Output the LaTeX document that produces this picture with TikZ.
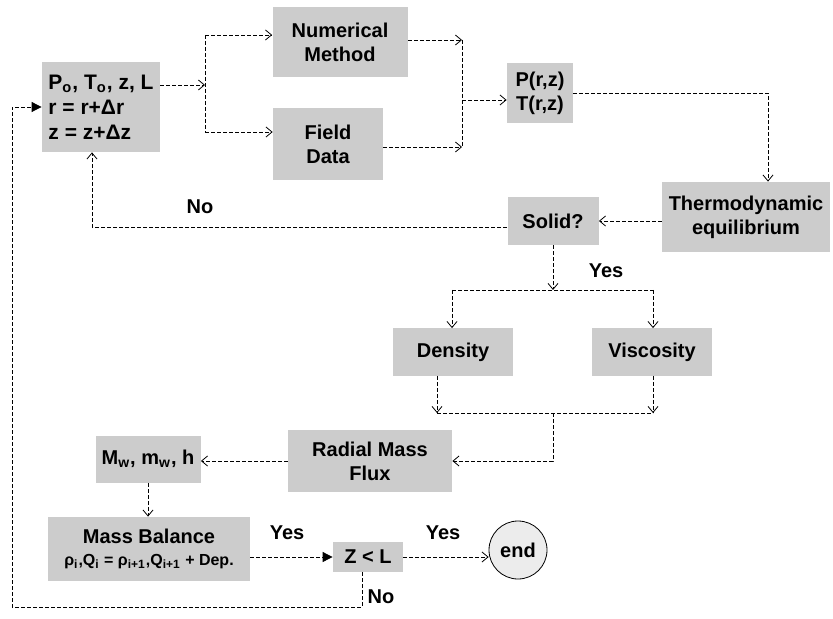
\documentclass[tikz,border=0pt]{standalone}
\usepackage{fontspec}
\setmainfont{Liberation Sans}
\usetikzlibrary{arrows.meta}

\begin{document}
\begin{tikzpicture}[x=0.5pt, y=-0.5pt,
	font=\fontsize{10}{12}\selectfont\bfseries,
	box/.style={fill=gray!40, align=center, inner sep=0pt},
	arr/.style={thin, dash pattern=on 2pt off 1pt, -{Straight Barb[length=3pt,width=5pt]}},
	farr/.style={thin, dash pattern=on 2pt off 1pt, -{Triangle[length=5pt,width=5pt]}},
	link/.style={thin, dash pattern=on 2pt off 1pt}]
	\useasboundingbox (0,0) rectangle (833,619);
	% blocks
	\node[box, align=left, minimum width=59pt, minimum height=45pt, font=\fontsize{10.5}{12.5}\selectfont\bfseries] (input) at (101,107)
		{P\textsubscript{o}, T\textsubscript{o}, z, L\\r = r+Δr\\z = z+Δz};
	\node[box, minimum width=67.5pt, minimum height=35pt] (num) at (340,42) {Numerical\\Method};
	\node[box, minimum width=55pt, minimum height=36pt] (field) at (328,144) {Field\\Data};
	\node[box, minimum width=33pt, minimum height=30pt] (pt) at (540,93) {P(r,z)\\T(r,z)};
	\node[box, minimum width=84pt, minimum height=35pt] (thermo) at (746,217) {Thermodynamic\\equilibrium};
	\node[box, minimum width=45.5pt, minimum height=24pt] (solid) at (553,221) {Solid?};
	\node[box, minimum width=60pt, minimum height=23.5pt] (dens) at (453,352) {Density};
	\node[box, minimum width=60pt, minimum height=23.5pt] (visc) at (652,352) {Viscosity};
	\node[box, minimum width=82pt, minimum height=31pt] (radial) at (370,461) {Radial Mass\\Flux};
	\node[box, minimum width=52.5pt, minimum height=23.5pt] (mw) at (148,459) {M\textsubscript{w}, m\textsubscript{w}, h};
	\node[box, minimum width=101pt, minimum height=32pt] (mass) at (149,549)
		{Mass Balance\\[-1pt]{\fontsize{8}{9}\selectfont ρ\textsubscript{i},Q\textsubscript{i} = ρ\textsubscript{i+1},Q\textsubscript{i+1} + Dep.}};
	\node[box, minimum width=35pt, minimum height=15pt] (zl) at (368,557) {Z < L};
	\node[draw, thin, circle, fill=gray!15, minimum size=29pt, inner sep=0pt] (end) at (518,550) {end};
	% labels
	\node (no1) at (200,207) {No};
	\node (yes1) at (606,271) {Yes};
	\node (yes2) at (287,533) {Yes};
	\node (yes3) at (443,533) {Yes};
	\node (no2) at (381,597) {No};
	% split points
	\coordinate (sp) at (205,85);
	\coordinate (sptop) at (205,35);
	\coordinate (spbot) at (205,132);
	\coordinate (jtop) at (462,40);
	\coordinate (jmid) at (462,100);
	\coordinate (jbot) at (462,147);
	\coordinate (tc) at (768,93);
	\coordinate (nocorner) at (92,227);
	\coordinate (yj) at (553,290);
	\coordinate (yl) at (452,290);
	\coordinate (yr) at (653,290);
	\coordinate (dl) at (437,413);
	\coordinate (dr) at (653,413);
	\coordinate (dm) at (553,413);
	\coordinate (nb) at (362,607);
	\coordinate (nl) at (12,607);
	\coordinate (nt) at (12,107);
	% connectors
	\draw[arr] (input.east |- sp) -- (sp);
	\draw[link] (sptop) -- (spbot);
	\draw[arr] (sptop) -- (num.west |- sptop);
	\draw[arr] (spbot) -- (field.west |- spbot);
	\draw[arr] (num.east |- jtop) -- (jtop);
	\draw[arr] (field.east |- jbot) -- (jbot);
	\draw[link] (jtop) -- (jbot);
	\draw[arr] (jmid) -- (pt.west |- jmid);
	\draw[arr] (pt.east) -- (tc) -- (tc |- thermo.north);
	\draw[arr] (thermo.west |- solid.east) -- (solid.east);
	\draw[arr] (solid.west |- nocorner) -- (nocorner) -- (nocorner |- input.south);
	\draw[arr] (solid.south) -- (yj);
	\draw[link] (yl) -- (yr);
	\draw[arr] (yl) -- (yl |- dens.north);
	\draw[arr] (yr) -- (yr |- visc.north);
	\draw[arr] (dl |- dens.south) -- (dl);
	\draw[arr] (dr |- visc.south) -- (dr);
	\draw[link] (dl) -- (dr);
	\draw[arr] (dm) -- (dm |- radial.east) -- (radial.east);
	\draw[arr] (radial.west) -- (radial.west -| mw.east);
	\draw[arr] (mw.south) -- (mw.south |- mass.north);
	\draw[farr] (mass.east |- zl.west) -- (zl.west);
	\draw[arr] (zl.east) -- (end.west |- zl.east);
	\draw[farr] (zl.south -| nb) -- (nb) -- (nl) -- (nt) -- (input.west |- nt);
\end{tikzpicture}
\end{document}
